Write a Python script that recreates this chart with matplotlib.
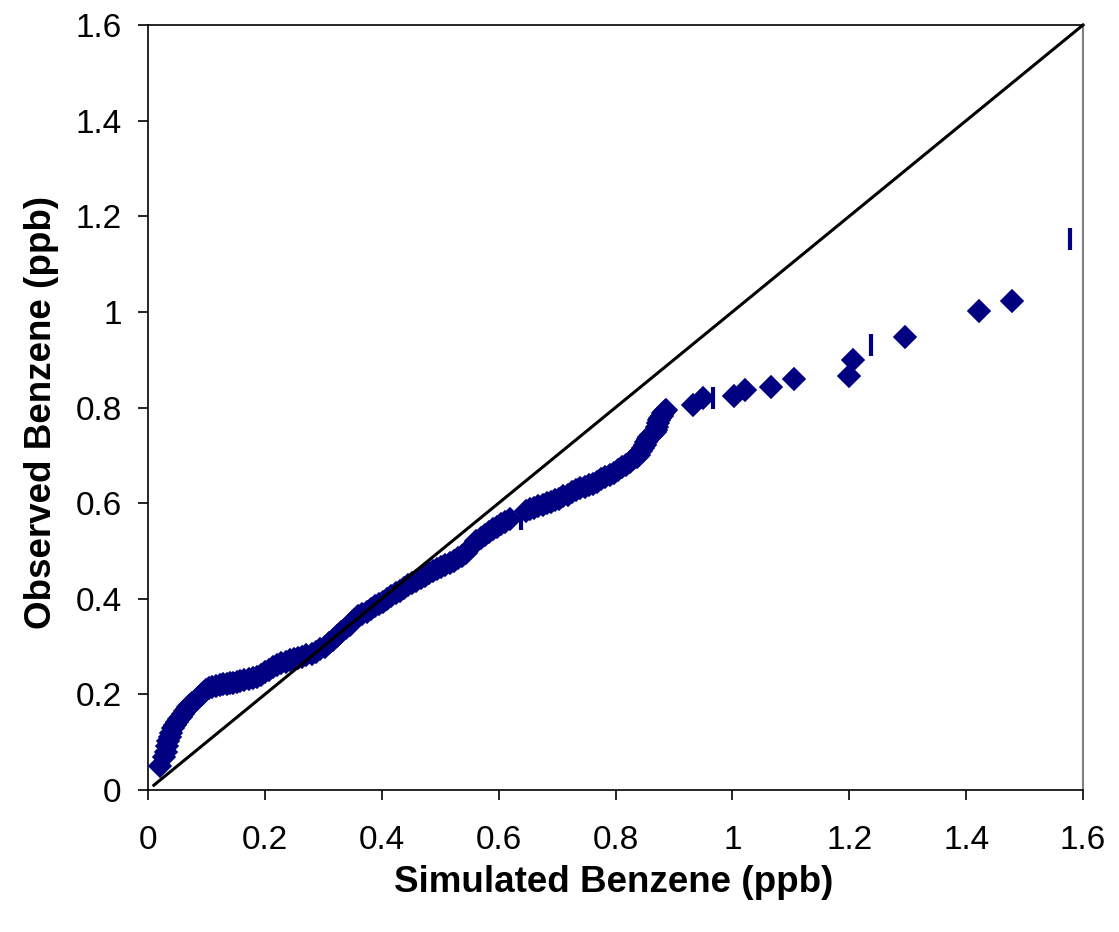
import matplotlib
matplotlib.use("Agg")
import matplotlib.pyplot as plt

plt.rcParams['font.family'] = ['Liberation Sans', 'DejaVu Sans']

# Q-Q values (diamond markers)
sim_diamond = [0.020, 0.028, 0.031, 0.033, 0.035, 0.037, 0.040, 0.043, 0.046, 0.050,
               0.053, 0.056, 0.060, 0.063, 0.066, 0.069, 0.072, 0.076, 0.080, 0.085,
               0.090, 0.095, 0.100, 0.105, 0.110, 0.116, 0.123, 0.129, 0.135, 0.141,
               0.146, 0.152, 0.157, 0.164, 0.172, 0.179, 0.186, 0.193, 0.200, 0.207,
               0.214, 0.221, 0.228, 0.236, 0.243, 0.250, 0.257, 0.264, 0.271, 0.280,
               0.288, 0.295, 0.303, 0.310, 0.317, 0.324, 0.331, 0.338, 0.345, 0.352,
               0.360, 0.367, 0.374, 0.381, 0.388, 0.395, 0.402, 0.409, 0.416, 0.424,
               0.431, 0.438, 0.445, 0.452, 0.459, 0.467, 0.474, 0.481, 0.488, 0.495,
               0.502, 0.509, 0.516, 0.523, 0.530, 0.537, 0.545, 0.553, 0.562, 0.569,
               0.576, 0.583, 0.590, 0.597, 0.604, 0.611, 0.619, 0.647, 0.654, 0.661,
               0.668, 0.676, 0.683, 0.690, 0.697, 0.704, 0.711, 0.718, 0.725, 0.733,
               0.740, 0.747, 0.754, 0.761, 0.768, 0.775, 0.782, 0.790, 0.797, 0.804,
               0.811, 0.818, 0.824, 0.830, 0.836, 0.841, 0.844, 0.847, 0.850, 0.853,
               0.856, 0.858, 0.861, 0.864, 0.867, 0.870, 0.871, 0.872, 0.875, 0.877,
               0.879, 0.881, 0.884, 0.887, 0.932, 0.949, 1.003, 1.021, 1.066, 1.106,
               1.200, 1.206, 1.295, 1.422, 1.478]
obs_diamond = [0.050, 0.068, 0.080, 0.092, 0.102, 0.110, 0.120, 0.130, 0.136, 0.142,
               0.148, 0.153, 0.160, 0.165, 0.169, 0.173, 0.177, 0.182, 0.187, 0.193,
               0.199, 0.204, 0.209, 0.213, 0.216, 0.218, 0.220, 0.221, 0.222, 0.223,
               0.224, 0.226, 0.228, 0.230, 0.232, 0.234, 0.237, 0.241, 0.246, 0.252,
               0.258, 0.262, 0.265, 0.268, 0.271, 0.274, 0.277, 0.279, 0.282, 0.285,
               0.289, 0.294, 0.300, 0.307, 0.314, 0.322, 0.330, 0.338, 0.346, 0.355,
               0.363, 0.368, 0.373, 0.379, 0.384, 0.389, 0.394, 0.400, 0.405, 0.411,
               0.417, 0.423, 0.428, 0.433, 0.438, 0.443, 0.448, 0.453, 0.457, 0.462,
               0.466, 0.470, 0.474, 0.480, 0.486, 0.490, 0.496, 0.508, 0.520, 0.527,
               0.533, 0.540, 0.546, 0.551, 0.556, 0.561, 0.567, 0.584, 0.587, 0.590,
               0.593, 0.596, 0.600, 0.603, 0.606, 0.609, 0.614, 0.618, 0.623, 0.628,
               0.631, 0.634, 0.637, 0.640, 0.645, 0.650, 0.654, 0.658, 0.664, 0.669,
               0.675, 0.680, 0.686, 0.692, 0.696, 0.700, 0.708, 0.716, 0.722, 0.728,
               0.734, 0.739, 0.742, 0.745, 0.748, 0.752, 0.760, 0.767, 0.773, 0.778,
               0.783, 0.788, 0.792, 0.795, 0.805, 0.819, 0.824, 0.837, 0.842, 0.859,
               0.865, 0.900, 0.947, 1.001, 1.022]

# points rendered as thin vertical dashes
sim_dash = [0.638, 0.966, 1.237, 1.578]
obs_dash = [0.567, 0.819, 0.930, 1.152]

# 1:1 reference line
line_x = [0.01, 1.6]
line_y = [0.01, 1.6]

x_ticks = [0, 0.2, 0.4, 0.6, 0.8, 1.0, 1.2, 1.4, 1.6]
x_tick_labels = ['0', '0.2', '0.4', '0.6', '0.8', '1', '1.2', '1.4', '1.6']
y_ticks = [0, 0.2, 0.4, 0.6, 0.8, 1.0, 1.2, 1.4, 1.6]
y_tick_labels = ['0', '0.2', '0.4', '0.6', '0.8', '1', '1.2', '1.4', '1.6']

navy = '#000080'

fig = plt.figure(figsize=(11.19, 9.32), dpi=100)
ax = fig.add_axes([148/1119, 1 - 790/932, (1083-148)/1119, (790-25)/932])

ax.plot(sim_diamond, obs_diamond, linestyle='none', marker='D', markersize=11,
        markerfacecolor=navy, markeredgecolor=navy, markeredgewidth=1.2, zorder=3)
ax.plot(sim_dash, obs_dash, linestyle='none', marker='|', markersize=16,
        markeredgecolor=navy, markeredgewidth=3, zorder=3)
ax.plot(line_x, line_y, color='black', linewidth=2.2, zorder=4, clip_on=False)

ax.set_xlim(0, 1.6)
ax.set_ylim(0, 1.6)
ax.set_xticks(x_ticks)
ax.set_xticklabels(x_tick_labels)
ax.set_yticks(y_ticks)
ax.set_yticklabels(y_tick_labels)
ax.tick_params(axis='both', direction='out', length=7, width=1.2, labelsize=24,
               colors='black')
ax.tick_params(axis='x', pad=18)
ax.tick_params(axis='y', pad=12)

for side in ['left', 'bottom', 'top']:
    ax.spines[side].set_color('black')
    ax.spines[side].set_linewidth(1.2)
ax.spines['right'].set_color('#808080')
ax.spines['right'].set_linewidth(1.5)

ax.set_xlabel('Simulated Benzene (ppb)', fontsize=26.5, fontweight='bold', va='center')
ax.set_ylabel('Observed Benzene (ppb)', fontsize=26.5, fontweight='bold', va='center')
ax.xaxis.set_label_coords((614-148)/935, (790-882)/765)
ax.yaxis.set_label_coords((42-148)/935, (790-412)/765)

fig.savefig('out.png', dpi=100)
